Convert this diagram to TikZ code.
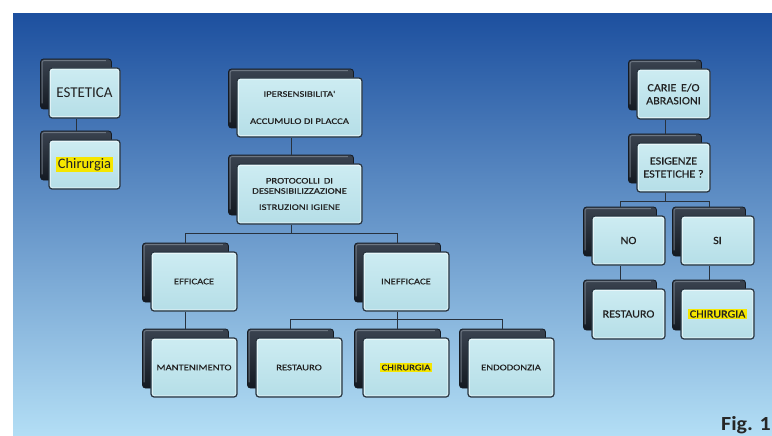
\documentclass[tikz,border=0pt]{standalone}
\usepackage{fontspec}
\setmainfont{Carlito}
\newfontfamily\smallf[FakeStretch=1.25,FakeBold=0.6]{Carlito}
\newfontfamily\rightf[FakeStretch=1.1,FakeBold=0.4]{Carlito}
\newfontfamily\figf[FakeStretch=1.1]{Carlito}
\definecolor{bgtop}{HTML}{1D509F}
\definecolor{bgmid}{HTML}{5699DA}
\definecolor{bgbot}{HTML}{B3DEF5}
\definecolor{ftop}{HTML}{CDECF2}
\definecolor{fbot}{HTML}{B5DEE7}
\definecolor{fdraw}{HTML}{2B3540}
\definecolor{btop}{HTML}{3A4350}
\definecolor{bbot}{HTML}{141A22}
\definecolor{bhl}{HTML}{7A838E}
\definecolor{conncol}{HTML}{28323E}
\definecolor{txt}{HTML}{222222}
\definecolor{hl}{HTML}{F5E600}
\setlength\fboxsep{1.5pt}
\tikzset{
  backbox/.style={draw=bbot, line width=0.8pt, rounded corners=3pt, top color=btop, bottom color=bbot, inner sep=0pt},
  backhl/.style={draw=bhl, line width=0.9pt, rounded corners=2pt, opacity=0.8},
  frontbox/.style={draw=fdraw, line width=1.2pt, rounded corners=3pt, top color=ftop, bottom color=fbot, inner sep=0pt, align=center, text=txt},
  fronthl/.style={draw=white, line width=0.7pt, rounded corners=2pt, opacity=0.55},
  conn/.style={draw=conncol, line width=0.9pt},
  smallt/.style={font=\smallf\fontsize{8.5}{10.2}\selectfont},
  rightt/.style={font=\rightf\fontsize{11}{13}\selectfont},
}
\newcommand\tbox[7]{%
  \node[backbox, minimum width=#4pt, minimum height=#5pt] (#1-b) at (#2-8.5,#3-9) {};
  \draw[backhl] ([shift={(2,-6)}]#1-b.south west) -- ([shift={(2,2)}]#1-b.north west) -- ([shift={(-6,2)}]#1-b.north east);
  \node[frontbox, minimum width=#4pt, minimum height=#5pt, #6] (#1) at (#2,#3) {#7};
  \draw[fronthl] ([shift={(2,2)}]#1.north west) rectangle ([shift={(-2,-2)}]#1.south east);
}
\begin{document}
\begin{tikzpicture}[x=1pt, y=-1pt]
\useasboundingbox (0,0) rectangle (772,436);
\fill[white] (0,0) rectangle (772,436);
\shade[top color=bgtop, middle color=bgmid, bottom color=bgbot] (13,14) rectangle (772,436);

% left column
\tbox{est}{84.5}{93}{71}{50}{font=\fontsize{15}{18}\selectfont}{ESTETICA}
\tbox{chl}{84.5}{164.5}{71}{49}{font=\fontsize{14.5}{17}\selectfont}{\colorbox{hl}{Chirurgia}}

% middle tree
\tbox{ipers}{299.5}{107.5}{125}{59}{smallt}{IPERSENSIBILITA'\\[17pt]ACCUMULO DI PLACCA}
\tbox{prot}{299.5}{194}{125}{60}{smallt}{PROTOCOLLI\, DI\\DESENSIBILIZZAZIONE\\[6pt]ISTRUZIONI IGIENE}
\tbox{eff}{194}{281.5}{86}{59}{smallt}{EFFICACE}
\tbox{ineff}{406}{281.5}{86}{59}{smallt}{INEFFICACE}
\tbox{mant}{194}{367.5}{86}{59}{smallt}{MANTENIMENTO}
\tbox{resm}{299}{367.5}{86}{59}{smallt}{RESTAURO}
\tbox{chm}{406}{367.5}{86}{59}{smallt}{\colorbox{hl}{CHIRURGIA}}
\tbox{endo}{511}{367.5}{86}{59}{smallt}{ENDODONZIA}

% right tree
\tbox{carie}{673.5}{94}{73}{50}{rightt}{CARIE\, E/O\\ABRASIONI}
\tbox{esig}{673.5}{167.5}{73}{49}{rightt}{ESIGENZE\\ESTETICHE ?}
\tbox{no}{628.5}{240.5}{73}{49}{rightt}{NO}
\tbox{si}{717.5}{240.5}{73}{49}{rightt}{SI}
\tbox{resr}{628.5}{314}{73}{50}{rightt}{RESTAURO}
\tbox{chr}{717.5}{314}{73}{50}{rightt}{\colorbox{hl}{CHIRURGIA}}

% junction levels
\coordinate (y233) at (0,233);
\coordinate (y319) at (0,319);
\coordinate (y201) at (0,201);

% connectors
\draw[conn] (chl-b |- est.south) -- (chl-b.north);
\draw[conn] (prot-b |- ipers.south) -- (prot-b.north);
\draw[conn] (prot-b |- prot.south) -- (prot-b |- y233);
\draw[conn] (eff-b.north) -- (eff-b |- y233) -- (ineff-b |- y233) -- (ineff-b.north);
\draw[conn] (mant-b |- eff.south) -- (mant-b.north);
\draw[conn] (chm-b |- ineff.south) -- (chm-b.north);
\draw[conn] (resm-b.north) -- (resm-b |- y319) -- (endo-b |- y319) -- (endo-b.north);
\draw[conn] (esig-b |- carie.south) -- (esig-b.north);
\draw[conn] (esig-b |- esig.south) -- (esig-b |- y201);
\draw[conn] (no-b.north) -- (no-b |- y201) -- (si-b |- y201) -- (si-b.north);
\draw[conn] (resr-b |- no.south) -- (resr-b.north);
\draw[conn] (chr-b |- si.south) -- (chr-b.north);

\node[anchor=base east, inner sep=0pt, text=black!85, font=\figf\bfseries\fontsize{20}{24}\selectfont] (fig) at (771,430) {Fig. 1};
\end{tikzpicture}
\end{document}
